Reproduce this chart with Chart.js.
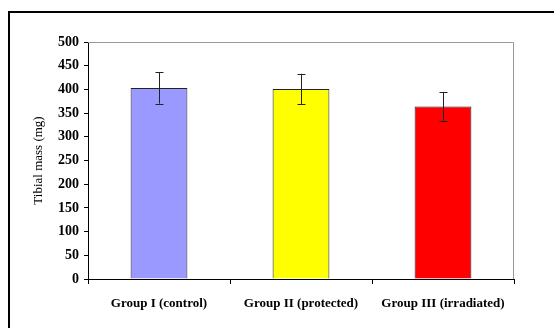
<!DOCTYPE html>
<html lang="en">
<head>
  <meta charset="UTF-8">
  <title>Tibial mass</title>
  <script src="https://cdn.jsdelivr.net/npm/chart.js"></script>
  <style>
    body { margin: 0; background: #fff; }
    #wrap { position: relative; width: 554px; height: 328px; }
    #frame { position: absolute; left: 8px; top: 11px; right: -10px; bottom: -10px;
             border-left: 2px solid #000; border-top: 2px solid #000; pointer-events: none; }
  </style>
</head>
<body>
  <div id="wrap">
    <canvas id="massChart" width="554" height="328"></canvas>
    <div id="frame"></div>
  </div>

  <script>
    const groups = ['Group I (control)', 'Group II (protected)', 'Group III (irradiated)'];
    const mass = [403, 401, 364];
    const sd = [33, 32, 30];
    const barColors = ['#9999ff', '#ffff00', '#ff0000'];
    const yTicks = [0, 50, 100, 150, 200, 250, 300, 350, 400, 450, 500];

    const serif = '"Liberation Serif", "Times New Roman", serif';

    // error bars + grey top/right frame of the plot
    const extras = {
      id: 'extras',
      afterDatasetsDraw(chart) {
        const ctx = chart.ctx;
        const y = chart.scales.y;
        const a = chart.chartArea;
        ctx.save();
        ctx.strokeStyle = '#999';
        ctx.lineWidth = 1;
        ctx.beginPath();
        ctx.moveTo(a.left, a.top + 0.5);
        ctx.lineTo(a.right - 0.5, a.top + 0.5);
        ctx.lineTo(a.right - 0.5, a.bottom);
        ctx.stroke();

        ctx.strokeStyle = '#222';
        chart.getDatasetMeta(0).data.forEach((bar, i) => {
          const x = Math.round(bar.x) + 0.5;
          const top = y.getPixelForValue(mass[i] + sd[i]);
          const bot = y.getPixelForValue(mass[i] - sd[i]);
          ctx.beginPath();
          ctx.moveTo(x, top);
          ctx.lineTo(x, bot);
          ctx.moveTo(x - 4, Math.round(top) + 0.5);
          ctx.lineTo(x + 4, Math.round(top) + 0.5);
          ctx.moveTo(x - 4, Math.round(bot) + 0.5);
          ctx.lineTo(x + 4, Math.round(bot) + 0.5);
          ctx.stroke();
        });
        ctx.restore();
      }
    };

    new Chart(document.getElementById('massChart'), {
      type: 'bar',
      data: {
        labels: groups,
        datasets: [{
          data: mass,
          backgroundColor: barColors,
          borderColor: '#222',
          borderWidth: 1,
          categoryPercentage: 1,
          barPercentage: 0.4
        }]
      },
      options: {
        responsive: false,
        animation: false,
        layout: { padding: { top: 42, right: 40, left: 0, bottom: 0 } },
        plugins: { legend: { display: false }, tooltip: { enabled: false } },
        scales: {
          x: {
            grid: { display: true, drawOnChartArea: false, offset: true, tickLength: 5, color: '#000' },
            border: { color: '#000', width: 1 },
            ticks: { color: '#000', padding: 12, maxRotation: 0, font: { family: serif, size: 13, weight: 'bold' } },
            afterFit(scale) { scale.height = 49; }
          },
          y: {
            min: 0,
            max: 500,
            afterBuildTicks(scale) { scale.ticks = yTicks.map(v => ({ value: v })); },
            grid: { display: true, drawOnChartArea: false, tickLength: 4, color: '#000' },
            border: { color: '#000', width: 1 },
            ticks: { color: '#000', padding: 5, font: { family: serif, size: 14, weight: 'bold' } },
            title: {
              display: true,
              text: 'Tibial mass (mg)',
              color: '#000',
              padding: { top: 31, bottom: 0 },
              font: { family: serif, size: 13 }
            },
            afterFit(scale) { scale.width = 88; }
          }
        }
      },
      plugins: [extras]
    });
  </script>
</body>
</html>
